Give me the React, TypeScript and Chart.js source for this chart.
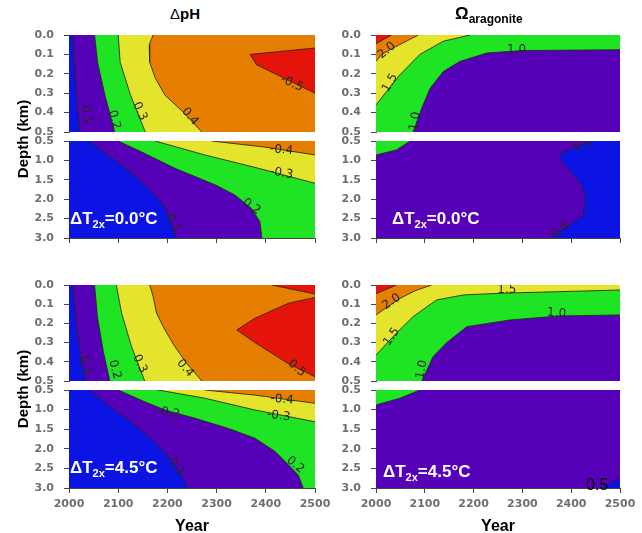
import React, { useEffect, useRef } from 'react';
import { Chart, registerables } from 'chart.js';
Chart.register(...registerables);

type Pt = [number, number];
type Lbl = [number, number, string, number];

const YEAR_TICKS = [2000, 2100, 2200, 2300, 2400, 2500];
const SURF_DEPTH_TICKS = [0, 0.1, 0.2, 0.3, 0.4, 0.5];
const DEEP_DEPTH_TICKS = [0.5, 1.0, 1.5, 2.0, 2.5, 3.0];

// ---- ΔpH, ΔT2x = 0.0 °C ----
const ph0SurfBluePurple: Pt[] = [[2008, 0], [2012, 0.2], [2018, 0.4], [2022, 0.5]];
const ph0SurfPurpleGreen: Pt[] = [[2052, 0], [2058, 0.14], [2073, 0.31], [2093, 0.5]];
const ph0SurfGreenYellow: Pt[] = [[2100, 0], [2104, 0.14], [2125, 0.31], [2155, 0.5]];
const ph0SurfYellowOrange: Pt[] = [[2171, 0], [2163, 0.05], [2164, 0.14], [2175, 0.22], [2195, 0.31], [2229, 0.39], [2270, 0.5]];
const ph0SurfOrangeRed: Pt[] = [[2500, 0.067], [2368, 0.1], [2381, 0.153], [2500, 0.3]];
const ph0SurfLabels: Lbl[] = [[2035, 0.41, '0.1', 80], [2092, 0.437, '0.2', 75], [2144, 0.393, '0.3', 65], [2246, 0.42, '0.4', 50], [2453, 0.25, '-0.5', 25]];

const ph0DeepBluePurple: Pt[] = [[2042, 0.5], [2079, 0.86], [2134, 1.38], [2168, 1.81], [2190, 2.1], [2205, 2.5], [2218, 3.0]];
const ph0DeepPurpleGreen: Pt[] = [[2100, 0.5], [2147, 0.78], [2215, 1.2], [2297, 1.63], [2337, 1.89], [2371, 2.24], [2388, 2.58], [2392, 3.0]];
const ph0DeepGreenYellow: Pt[] = [[2175, 0.5], [2276, 0.86], [2378, 1.18], [2500, 1.59]];
const ph0DeepYellowOrange: Pt[] = [[2290, 0.5], [2400, 0.66], [2500, 0.86]];
const ph0DeepLabels: Lbl[] = [[2432, 0.73, '-0.4', 5], [2432, 1.33, '-0.3', 10], [2371, 2.19, '0.2', 35], [2212, 2.62, '0.1', 60]];

// ---- Ω aragonite, ΔT2x = 0.0 °C ----
const om0SurfRed: Pt[] = [[2032, 0], [2000, 0.045]];
const om0SurfOrangeYellow: Pt[] = [[2087, 0], [2035, 0.067], [2012, 0.1], [2000, 0.136]];
const om0SurfYellowGreen: Pt[] = [[2193, 0], [2138, 0.032], [2090, 0.1], [2049, 0.205], [2022, 0.29], [2000, 0.36]];
const om0SurfGreenPurple: Pt[] = [[2500, 0.076], [2300, 0.08], [2227, 0.093], [2172, 0.136], [2138, 0.188], [2111, 0.274], [2094, 0.376], [2076, 0.5]];
const om0SurfLabels: Lbl[] = [[2022, 0.08, '2.0', -40], [2029, 0.247, '1.5', -60], [2288, 0.076, '1.0', 0], [2080, 0.445, '1.0', -80]];

const om0DeepGreenPurple: Pt[] = [[2070, 0.5], [2042, 0.73], [2000, 0.86]];
const om0DeepPurpleBlue: Pt[] = [[2439, 0.5], [2380, 0.8], [2376, 0.95], [2421, 1.63], [2428, 1.9], [2425, 2.41], [2357, 3.0]];
const om0DeepLabels: Lbl[] = [[2425, 0.6, '0.5', -15], [2377, 2.79, '0.5', -40]];

// ---- ΔpH, ΔT2x = 4.5 °C ----
const ph45SurfBluePurple: Pt[] = [[2008, 0], [2015, 0.2], [2025, 0.4], [2035, 0.5]];
const ph45SurfPurpleGreen: Pt[] = [[2052, 0], [2058, 0.17], [2070, 0.35], [2083, 0.5]];
const ph45SurfGreenYellow: Pt[] = [[2096, 0], [2107, 0.147], [2127, 0.32], [2154, 0.5]];
const ph45SurfYellowOrange: Pt[] = [[2164, 0], [2171, 0.06], [2178, 0.147], [2195, 0.234], [2215, 0.32], [2239, 0.408], [2270, 0.5]];
const ph45SurfRedTop: Pt[] = [[2412, 0], [2500, 0.047]];
const ph45SurfRed: Pt[] = [[2500, 0.065], [2446, 0.095], [2378, 0.173], [2341, 0.234], [2378, 0.3], [2446, 0.41], [2500, 0.478]];
const ph45SurfLabels: Lbl[] = [[2035, 0.417, '0.1', 80], [2093, 0.44, '0.2', 75], [2144, 0.41, '0.3', 65], [2236, 0.434, '0.4', 50], [2463, 0.434, '0.5', 40]];

const ph45DeepBluePurple: Pt[] = [[2042, 0.5], [2080, 0.88], [2134, 1.39], [2175, 1.82], [2205, 2.24], [2225, 2.58], [2242, 3.0]];
const ph45DeepPurpleGreen: Pt[] = [[2100, 0.5], [2154, 0.8], [2195, 1.01], [2256, 1.22], [2324, 1.48], [2378, 1.73], [2419, 2.07], [2446, 2.41], [2466, 2.67], [2476, 3.0]];
const ph45DeepGreenYellow: Pt[] = [[2181, 0.5], [2276, 0.71], [2378, 1.01], [2500, 1.31]];
const ph45DeepYellowOrange: Pt[] = [[2276, 0.5], [2378, 0.63], [2500, 0.84]];
const ph45DeepLabels: Lbl[] = [[2433, 0.74, '-0.4', 5], [2426, 1.16, '-0.3', 8], [2202, 1.08, '-0.2', 10], [2460, 2.41, '0.2', 40], [2219, 2.46, '0.1', 55]];

// ---- Ω aragonite, ΔT2x = 4.5 °C ----
const om45SurfRed: Pt[] = [[2042, 0], [2000, 0.045]];
const om45SurfOrangeYellow: Pt[] = [[2114, 0], [2080, 0.03], [2049, 0.07], [2020, 0.12], [2000, 0.156]];
const om45SurfYellowGreen: Pt[] = [[2500, 0.026], [2254, 0.043], [2179, 0.052], [2124, 0.078], [2076, 0.165], [2042, 0.25], [2000, 0.365]];
const om45SurfGreenPurple: Pt[] = [[2500, 0.156], [2377, 0.161], [2275, 0.182], [2186, 0.217], [2145, 0.3], [2117, 0.373], [2094, 0.5]];
const om45SurfLabels: Lbl[] = [[2032, 0.087, '2.0', -35], [2268, 0.026, '1.5', 0], [2032, 0.27, '1.5', -55], [2370, 0.147, '1.0', 5], [2094, 0.44, '1.0', -80]];

const om45DeepGreenPurple: Pt[] = [[2090, 0.5], [2049, 0.71], [2000, 0.88]];
const om45DeepPurpleBlue: Pt[] = [[2459, 3.0], [2500, 2.75]];
const om45DeepLabels: Lbl[] = [];

const COL = {
  blue: '#0c14e4',
  purple: '#5600b8',
  green: '#1ee424',
  yellow: '#e4e42c',
  orange: '#e67e02',
  red: '#e4140a',
};
const LINE_COLOR = 'rgba(45,35,25,0.85)';
const TICK_COLOR = '#6e6e6e';
const AXIS_COLOR = '#444';

interface Region { line: Pt[]; close: Pt[]; color: string }
interface PanelSpec {
  L: number; T: number; R: number; B: number;
  yMin: number; yMax: number; yTicks: number[];
  xMode: 'none' | 'ticks' | 'full';
  base: string;
  regions: Region[];
  labels: Lbl[];
}

const labelPlugin = {
  id: 'contourLabels',
  afterDatasetsDraw(chart: any, _a: any, opts: any) {
    const labels: Lbl[] = (opts && opts.labels) || [];
    const { ctx, chartArea } = chart;
    ctx.save();
    ctx.beginPath();
    ctx.rect(chartArea.left, chartArea.top, chartArea.right - chartArea.left, chartArea.bottom - chartArea.top);
    ctx.clip();
    ctx.font = '12px "DejaVu Sans"';
    ctx.fillStyle = '#262626';
    ctx.textAlign = 'center';
    ctx.textBaseline = 'middle';
    for (const [yr, d, text, ang] of labels) {
      const x = chart.scales.x.getPixelForValue(yr);
      const y = chart.scales.y.getPixelForValue(d);
      ctx.save();
      ctx.translate(x, y);
      ctx.rotate((ang * Math.PI) / 180);
      ctx.fillText(text, 0, 0);
      ctx.restore();
    }
    ctx.restore();
  },
};

const Y_W = 45, PAD_T = 8, PAD_B = 8, PAD_R = 22;

function Panel({ spec }: { spec: PanelSpec }) {
  const ref = useRef<HTMLCanvasElement>(null);
  const xH = spec.xMode === 'none' ? 0 : spec.xMode === 'ticks' ? 6 : 50;
  const width = Y_W + (spec.R - spec.L) + PAD_R;
  const height = PAD_T + (spec.B - spec.T) + xH + PAD_B;
  useEffect(() => {
    if (!ref.current) return;
    const { yMin, yMax } = spec;
    const rect: Pt[] = [[2000, yMin], [2500, yMin], [2500, yMax], [2000, yMax]];
    const fills = [{ pts: rect, color: spec.base }, ...spec.regions.map((r) => ({ pts: [...r.line, ...r.close], color: r.color }))];
    const n = fills.length;
    const datasets: any[] = fills.map((f, i) => ({
      data: f.pts.map(([x, y]) => ({ x, y })),
      fill: 'shape',
      backgroundColor: f.color,
      borderColor: 'rgba(0,0,0,0)',
      borderWidth: 0,
      pointRadius: 0,
      pointHoverRadius: 0,
      order: 100 + n - i,
    }));
    spec.regions.forEach((r) => {
      datasets.push({
        data: r.line.map(([x, y]) => ({ x, y })),
        fill: false,
        borderColor: LINE_COLOR,
        borderWidth: 1,
        pointRadius: 0,
        pointHoverRadius: 0,
        order: 1,
      });
    });
    const tickFont = { family: '"DejaVu Sans"', size: 11, weight: 'bold' as const };
    const chart = new Chart(ref.current, {
      type: 'line',
      data: { datasets },
      plugins: [labelPlugin as any],
      options: {
        animation: false,
        responsive: false,
        maintainAspectRatio: false,
        events: [],
        layout: { padding: { top: PAD_T, bottom: PAD_B, right: PAD_R, left: 0 } },
        plugins: {
          legend: { display: false },
          tooltip: { enabled: false },
          contourLabels: { labels: spec.labels },
        } as any,
        scales: {
          x: {
            type: 'linear',
            min: 2000,
            max: 2500,
            display: spec.xMode !== 'none',
            afterBuildTicks: (s: any) => { s.ticks = YEAR_TICKS.map((v) => ({ value: v })); },
            afterFit: (s: any) => {
              s.height = xH;
              s.paddingLeft = 0; s.paddingRight = 0; s.paddingTop = 0; s.paddingBottom = 0;
            },
            grid: { drawOnChartArea: false, drawTicks: true, tickLength: 5, color: AXIS_COLOR },
            border: { display: true, color: AXIS_COLOR },
            ticks: {
              display: spec.xMode === 'full',
              padding: 5,
              color: TICK_COLOR,
              font: tickFont,
              maxRotation: 0,
              autoSkip: false,
              callback: (v: any) => String(v),
            },
            title: {
              display: spec.xMode === 'full',
              text: 'Year',
              color: '#000',
              font: { family: '"Liberation Sans"', size: 16, weight: 'bold' },
              padding: { top: 0, bottom: 2 },
            },
          },
          y: {
            type: 'linear',
            reverse: true,
            min: yMin,
            max: yMax,
            afterBuildTicks: (s: any) => { s.ticks = spec.yTicks.map((v) => ({ value: v })); },
            afterFit: (s: any) => {
              s.width = Y_W;
              s.paddingLeft = 0; s.paddingRight = 0; s.paddingTop = 0; s.paddingBottom = 0;
            },
            grid: { drawOnChartArea: false, drawTicks: true, tickLength: 5, color: AXIS_COLOR },
            border: { display: true, color: AXIS_COLOR },
            ticks: {
              padding: 10,
              color: TICK_COLOR,
              font: tickFont,
              autoSkip: false,
              callback: (v: any) => Number(v).toFixed(1),
            },
          },
        },
      } as any,
    });
    return () => chart.destroy();
  }, []);
  return (
    <canvas
      ref={ref}
      width={width}
      height={height}
      style={{ position: 'absolute', left: spec.L - Y_W, top: spec.T - PAD_T, width, height }}
    />
  );
}

const LEFT = { L: 69, R: 315 };
const RIGHT = { L: 376, R: 620 };
const ROW1S = { T: 35, B: 132 };
const ROW1D = { T: 141, B: 238 };
const ROW2S = { T: 285, B: 381 };
const ROW2D = { T: 390, B: 488 };

const surf = { yMin: 0, yMax: 0.5, yTicks: SURF_DEPTH_TICKS };
const deep = { yMin: 0.5, yMax: 3.0, yTicks: DEEP_DEPTH_TICKS };

const PANELS: PanelSpec[] = [
  {
    ...LEFT, ...ROW1S, ...surf, xMode: 'none', base: COL.blue,
    regions: [
      { line: ph0SurfBluePurple, close: [[2500, 0.5], [2500, 0]], color: COL.purple },
      { line: ph0SurfPurpleGreen, close: [[2500, 0.5], [2500, 0]], color: COL.green },
      { line: ph0SurfGreenYellow, close: [[2500, 0.5], [2500, 0]], color: COL.yellow },
      { line: ph0SurfYellowOrange, close: [[2500, 0.5], [2500, 0]], color: COL.orange },
      { line: ph0SurfOrangeRed, close: [], color: COL.red },
    ],
    labels: ph0SurfLabels,
  },
  {
    ...LEFT, ...ROW1D, ...deep, xMode: 'ticks', base: COL.blue,
    regions: [
      { line: ph0DeepBluePurple, close: [[2500, 3], [2500, 0.5]], color: COL.purple },
      { line: ph0DeepPurpleGreen, close: [[2500, 3], [2500, 0.5]], color: COL.green },
      { line: ph0DeepGreenYellow, close: [[2500, 0.5]], color: COL.yellow },
      { line: ph0DeepYellowOrange, close: [[2500, 0.5]], color: COL.orange },
    ],
    labels: ph0DeepLabels,
  },
  {
    ...RIGHT, ...ROW1S, ...surf, xMode: 'none', base: COL.purple,
    regions: [
      { line: om0SurfGreenPurple, close: [[2000, 0.5], [2000, 0], [2500, 0]], color: COL.green },
      { line: om0SurfYellowGreen, close: [[2000, 0]], color: COL.yellow },
      { line: om0SurfOrangeYellow, close: [[2000, 0]], color: COL.orange },
      { line: om0SurfRed, close: [[2000, 0]], color: COL.red },
    ],
    labels: om0SurfLabels,
  },
  {
    ...RIGHT, ...ROW1D, ...deep, xMode: 'ticks', base: COL.purple,
    regions: [
      { line: om0DeepGreenPurple, close: [[2000, 0.5]], color: COL.green },
      { line: om0DeepPurpleBlue, close: [[2500, 3], [2500, 0.5]], color: COL.blue },
    ],
    labels: om0DeepLabels,
  },
  {
    ...LEFT, ...ROW2S, ...surf, xMode: 'none', base: COL.blue,
    regions: [
      { line: ph45SurfBluePurple, close: [[2500, 0.5], [2500, 0]], color: COL.purple },
      { line: ph45SurfPurpleGreen, close: [[2500, 0.5], [2500, 0]], color: COL.green },
      { line: ph45SurfGreenYellow, close: [[2500, 0.5], [2500, 0]], color: COL.yellow },
      { line: ph45SurfYellowOrange, close: [[2500, 0.5], [2500, 0]], color: COL.orange },
      { line: ph45SurfRedTop, close: [[2500, 0]], color: COL.red },
      { line: ph45SurfRed, close: [], color: COL.red },
    ],
    labels: ph45SurfLabels,
  },
  {
    ...LEFT, ...ROW2D, ...deep, xMode: 'full', base: COL.blue,
    regions: [
      { line: ph45DeepBluePurple, close: [[2500, 3], [2500, 0.5]], color: COL.purple },
      { line: ph45DeepPurpleGreen, close: [[2500, 3], [2500, 0.5]], color: COL.green },
      { line: ph45DeepGreenYellow, close: [[2500, 0.5]], color: COL.yellow },
      { line: ph45DeepYellowOrange, close: [[2500, 0.5]], color: COL.orange },
    ],
    labels: ph45DeepLabels,
  },
  {
    ...RIGHT, ...ROW2S, ...surf, xMode: 'none', base: COL.purple,
    regions: [
      { line: om45SurfGreenPurple, close: [[2000, 0.5], [2000, 0], [2500, 0]], color: COL.green },
      { line: om45SurfYellowGreen, close: [[2000, 0], [2500, 0]], color: COL.yellow },
      { line: om45SurfOrangeYellow, close: [[2000, 0]], color: COL.orange },
      { line: om45SurfRed, close: [[2000, 0]], color: COL.red },
    ],
    labels: om45SurfLabels,
  },
  {
    ...RIGHT, ...ROW2D, ...deep, xMode: 'full', base: COL.purple,
    regions: [
      { line: om45DeepGreenPurple, close: [[2000, 0.5]], color: COL.green },
      { line: om45DeepPurpleBlue, close: [[2500, 3]], color: COL.blue },
    ],
    labels: om45DeepLabels,
  },
];

const FONT = '"Liberation Sans", Arial, sans-serif';

function DeltaT({ x, y, v }: { x: number; y: number; v: string }) {
  return (
    <div style={{ position: 'absolute', left: x, top: y, color: '#fff', fontFamily: FONT, fontWeight: 'bold', fontSize: 17, lineHeight: '20px', whiteSpace: 'nowrap' }}>
      ΔT<span style={{ fontSize: 11, position: 'relative', top: 4 }}>2x</span>={v}°C
    </div>
  );
}

function DepthLabel({ cy }: { cy: number }) {
  return (
    <div style={{ position: 'absolute', left: 22, top: cy, transform: 'translate(-50%, -50%) rotate(-90deg)', fontFamily: FONT, fontWeight: 'bold', fontSize: 15, whiteSpace: 'nowrap', color: '#000' }}>
      Depth (km)
    </div>
  );
}

export default function App() {
  return (
    <div style={{ position: 'absolute', left: 0, top: 0, width: 642, height: 533, overflow: 'hidden', background: '#fff', fontFamily: FONT }}>
      {PANELS.map((p, i) => <Panel key={i} spec={p} />)}
      <div style={{ position: 'absolute', left: 170, top: 5, fontFamily: FONT, fontWeight: 'bold', fontSize: 15, lineHeight: '18px', color: '#000', whiteSpace: 'nowrap' }}>
        <span style={{ fontWeight: 'normal' }}>Δ</span>pH
      </div>
      <div style={{ position: 'absolute', left: 455, top: 4, fontFamily: FONT, fontWeight: 'bold', fontSize: 17, lineHeight: '20px', color: '#000', whiteSpace: 'nowrap' }}>
        Ω<span style={{ fontSize: 12, position: 'relative', top: 4 }}>aragonite</span>
      </div>
      <DepthLabel cy={139} />
      <DepthLabel cy={389} />
      <DeltaT x={70} y={209} v="0.0" />
      <DeltaT x={392} y={209} v="0.0" />
      <DeltaT x={70} y={458} v="4.5" />
      <DeltaT x={383} y={462} v="4.5" />
      <div style={{ position: 'absolute', left: 586, top: 476, fontFamily: FONT, fontSize: 16, lineHeight: '18px', color: '#000' }}>0.5</div>
    </div>
  );
}
